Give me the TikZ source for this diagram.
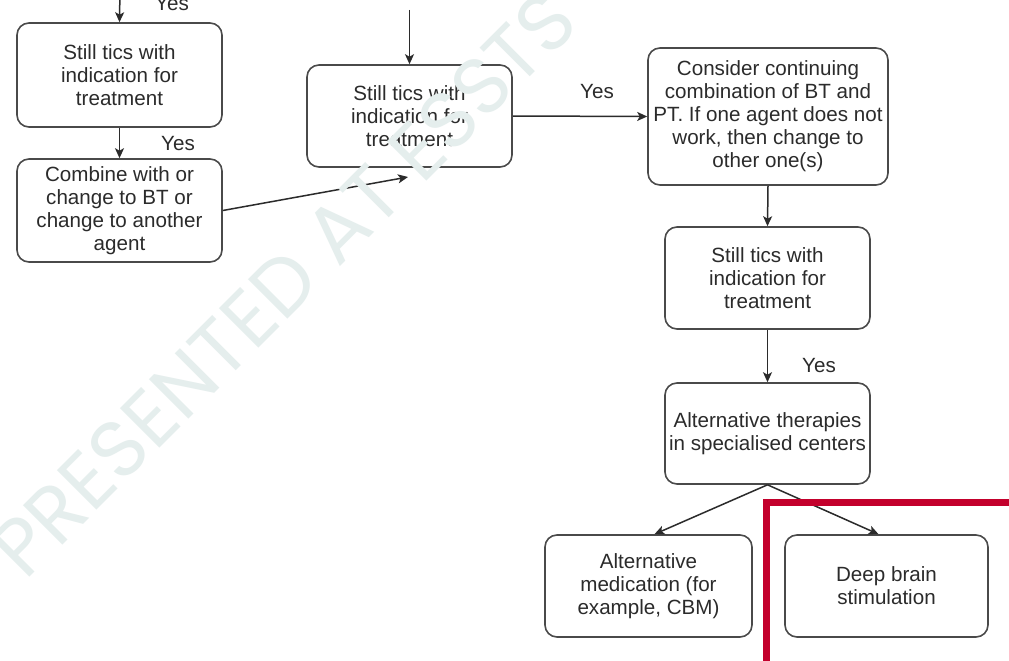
\documentclass[tikz,border=0pt]{standalone}
\usepackage{fontspec}
\setmainfont{Liberation Sans}
\newfontfamily\wmfont{Poppins}
\usetikzlibrary{arrows.meta}
\definecolor{boxline}{HTML}{4A4A4A}
\definecolor{txt}{HTML}{2B2B2B}
\definecolor{wm}{RGB}{229,238,237}
\definecolor{frame}{HTML}{C3002C}
\begin{document}
\begin{tikzpicture}[x=1pt,y=-1pt,
  box/.style={draw=boxline, line width=1.6pt, rounded corners=12pt, fill=white, text=txt,
              align=center, inner sep=0pt, font=\fontsize{20.6}{23}\selectfont},
  arr/.style={draw=txt, line width=1.5pt, -{Stealth[length=10pt,width=9pt,inset=2.5pt]}},
  yes/.style={text=txt, font=\fontsize{20.6}{23}\selectfont, anchor=base, inner sep=0pt},
  watermark/.style={text=wm, font=\wmfont\fontsize{80}{80}\selectfont, inner sep=0pt, rotate=45},
  redframe/.style={draw=frame, line width=7pt}]
\useasboundingbox (0,0) rectangle (1009,661);
\clip (0,0) rectangle (1009,661);
\fill[white] (0,0) rectangle (1009,661);

% boxes
\node[box, minimum width=205pt, minimum height=104pt] (A) at (119.5,75) {Still tics with\\indication for\\treatment};
\node[box, minimum width=205pt, minimum height=103pt] (B) at (119.5,210.5) {Combine with or\\change to BT or\\change to another\\agent};
\node[box, minimum width=205pt, minimum height=102pt] (C) at (409.5,116) {Still tics with\\indication for\\treatment};
\node[box, minimum width=240pt, minimum height=137pt] (D) at (768,116.5) {Consider continuing\\combination of BT and\\PT. If one agent does not\\work, then change to\\other one(s)};
\node[box, minimum width=205pt, minimum height=102pt] (E) at (767.5,278) {Still tics with\\indication for\\treatment};
\node[box, minimum width=205pt, minimum height=101pt] (F) at (767.5,433.5) {Alternative therapies\\in specialised centers};
\node[box, minimum width=207pt, minimum height=102pt] (G) at (648.5,586) {Alternative\\medication (for\\example, CBM)};
\node[box, minimum width=203pt, minimum height=102pt] (H) at (886.5,586) {Deep brain\\stimulation};

% free ends
\coordinate (topA) at (120,-12);
\coordinate (topC) at (409.5,10);
\coordinate (cin) at (408,177);

% connectors
\draw[arr] (topA) -- (A.north);
\draw[arr] (A.south) -- (B.north);
\draw[arr] (topC) -- (C.north);
\draw[arr] (B.east) -- (cin);
\draw[arr] (C.east) -- (D.west);
\draw[arr] (D.south) -- (E.north);
\draw[arr] (E.south) -- (F.north);
\draw[arr] (F.south) -- ([xshift=6pt]G.north);
\draw[arr] (F.south) -- ([xshift=-8pt]H.north);

% labels
\node[yes] (y0) at (172,11) {Yes};
\node[yes] (y1) at (178,150) {Yes};
\node[yes] (y2) at (597,98) {Yes};
\node[yes] (y3) at (819,372) {Yes};

% watermark
\node[watermark] (wmk) at (284,284) {PRESENTED AT ESSTS};

% red frame
\draw[redframe] (766.5,502.5) rectangle (1020,664);
\end{tikzpicture}
\end{document}
